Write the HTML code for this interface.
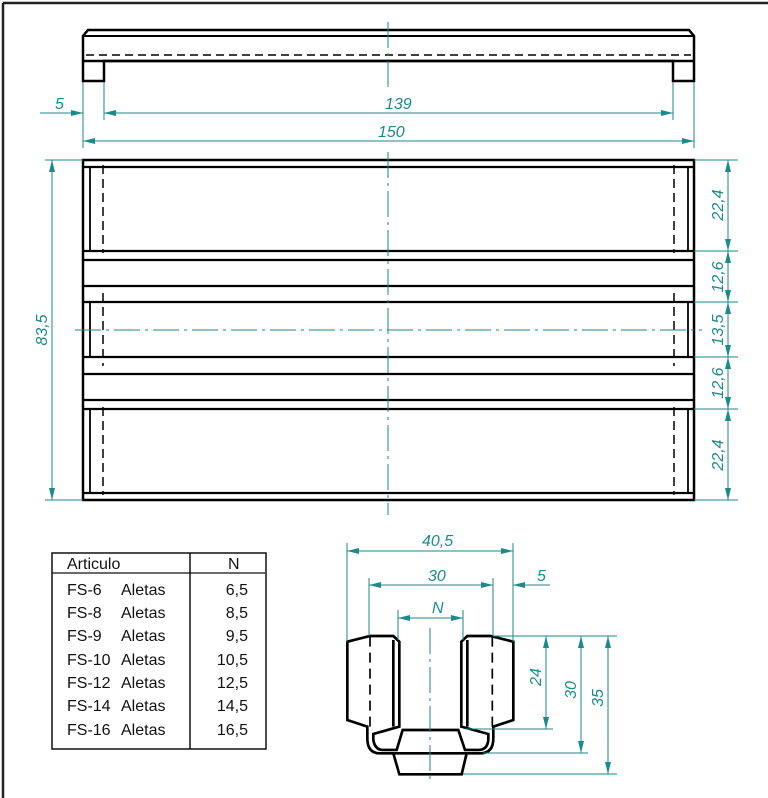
<!DOCTYPE html>
<html><head><meta charset="utf-8"><style>
html,body{margin:0;padding:0;background:#fff}
svg{display:block}
.t{font-family:"Liberation Sans",sans-serif;font-style:italic;fill:#1a8a8a;font-size:16px}
.tb{font-family:"Liberation Sans",sans-serif;fill:#111;font-size:16px}
</style></head><body>
<svg width="768" height="798" viewBox="0 0 768 798" xmlns="http://www.w3.org/2000/svg">
<defs>
<marker id="a" viewBox="0 0 12 6" refX="12" refY="3" markerWidth="12" markerHeight="6" markerUnits="userSpaceOnUse" orient="auto-start-reverse"><path d="M0,0 L12,3 L0,6 z" fill="#1a8a8a"/></marker>
</defs>
<line x1="3" y1="3" x2="768" y2="3" stroke="#222" stroke-width="2.5"/>
<line x1="3" y1="3" x2="3" y2="798" stroke="#222" stroke-width="2.5"/>

<g stroke="#000" fill="none">
<path d="M83,81 L83,36 L88,30 L689,30 L694,36 L694,81 L673,81 L673,61 L104,61 L104,81 Z" stroke-width="2.5"/>
<line x1="83" y1="36" x2="694" y2="36" stroke-width="2"/>
<line x1="83" y1="61" x2="694" y2="61" stroke-width="2.5"/>
<line x1="86" y1="55" x2="691" y2="55" stroke-width="1.5" stroke-dasharray="8,5"/>
<rect x="83" y="160" width="611" height="340" stroke-width="2.5"/>
<g stroke-width="2.2">
<line x1="83" y1="167" x2="694" y2="167"/>
<line x1="83" y1="251" x2="694" y2="251"/>
<line x1="83" y1="260" x2="694" y2="260"/>
<line x1="83" y1="286" x2="694" y2="286"/>
<line x1="83" y1="302" x2="694" y2="302"/>
<line x1="83" y1="357" x2="694" y2="357"/>
<line x1="83" y1="374" x2="694" y2="374"/>
<line x1="83" y1="400" x2="694" y2="400"/>
<line x1="83" y1="409" x2="694" y2="409"/>
<line x1="83" y1="493" x2="694" y2="493"/>
</g>
<g stroke-width="1.8">
<line x1="90" y1="167" x2="90" y2="251"/><line x1="688" y1="167" x2="688" y2="251"/>
<line x1="90" y1="302" x2="90" y2="357"/><line x1="688" y1="302" x2="688" y2="357"/>
<line x1="90" y1="409" x2="90" y2="493"/><line x1="688" y1="409" x2="688" y2="493"/>
</g>
<g stroke-width="1.5" stroke-dasharray="9,5">
<line x1="103" y1="165" x2="103" y2="253"/><line x1="674" y1="165" x2="674" y2="253"/>
<line x1="103" y1="293" x2="103" y2="366"/><line x1="674" y1="293" x2="674" y2="366"/>
<line x1="103" y1="407" x2="103" y2="495"/><line x1="674" y1="407" x2="674" y2="495"/>
</g>
<g transform="translate(330,530) scale(0.3333)" stroke-width="8">
<path d="M112,590 L52,570 L52,335 L120,318 L190,318 L208,335 L208,590 L130,612 L130,630 Q135,660 160,660 L200,660 L218,600 L385,600 L405,660 L445,660 Q472,660 475,630 L475,612 L394,590 L394,335 L412,318 L482,318 L550,335 L550,570 L490,590 L490,625 Q490,670 450,670 L150,670 Q112,670 112,625 Z"/>
<line x1="190" y1="330" x2="190" y2="590"/>
<line x1="412" y1="330" x2="412" y2="590"/>
<path d="M190,670 L208,733 L395,733 L410,670"/>
<line x1="190" y1="670" x2="410" y2="670" stroke-width="5" stroke-dasharray="24,14"/>
<line x1="120" y1="320" x2="120" y2="590" stroke-width="5" stroke-dasharray="30,18"/>
<line x1="487" y1="320" x2="487" y2="590" stroke-width="5" stroke-dasharray="30,18"/>
</g>
</g>

<g stroke="#1a8a8a" stroke-width="1" fill="none" stroke-dasharray="26,5,3,5">
<line x1="388" y1="22" x2="388" y2="90"/>
<line x1="388" y1="152" x2="388" y2="515"/>
<line x1="75" y1="330" x2="702" y2="330"/>
<line x1="430" y1="628" x2="430" y2="780"/>
</g>

<g stroke="#1a8a8a" stroke-width="1" fill="none">
<line x1="83" y1="82" x2="83" y2="148"/><line x1="104" y1="82" x2="104" y2="120"/>
<line x1="673" y1="82" x2="673" y2="120"/><line x1="694" y1="82" x2="694" y2="148"/>
<line x1="40" y1="113" x2="83" y2="113" marker-end="url(#a)"/>
<line x1="104" y1="113" x2="673" y2="113" marker-start="url(#a)" marker-end="url(#a)"/>
<line x1="83" y1="141" x2="694" y2="141" marker-start="url(#a)" marker-end="url(#a)"/>
<line x1="45" y1="160" x2="83" y2="160"/><line x1="45" y1="500" x2="83" y2="500"/>
<line x1="52" y1="160" x2="52" y2="500" marker-start="url(#a)" marker-end="url(#a)"/>
<line x1="694" y1="160" x2="738" y2="160"/><line x1="694" y1="251" x2="738" y2="251"/>
<line x1="694" y1="302" x2="738" y2="302"/><line x1="694" y1="357" x2="738" y2="357"/>
<line x1="694" y1="409" x2="738" y2="409"/><line x1="694" y1="500" x2="738" y2="500"/>
<line x1="728" y1="160" x2="728" y2="251" marker-start="url(#a)" marker-end="url(#a)"/>
<line x1="728" y1="251" x2="728" y2="302" marker-start="url(#a)" marker-end="url(#a)"/>
<line x1="728" y1="302" x2="728" y2="357" marker-start="url(#a)" marker-end="url(#a)"/>
<line x1="728" y1="357" x2="728" y2="409" marker-start="url(#a)" marker-end="url(#a)"/>
<line x1="728" y1="409" x2="728" y2="500" marker-start="url(#a)" marker-end="url(#a)"/>
<line x1="347" y1="543" x2="347" y2="642"/><line x1="513" y1="543" x2="513" y2="642"/>
<line x1="369" y1="578" x2="369" y2="636"/><line x1="493" y1="578" x2="493" y2="636"/>
<line x1="398" y1="610" x2="398" y2="640"/><line x1="463" y1="610" x2="463" y2="640"/>
<line x1="347" y1="551" x2="513" y2="551" marker-start="url(#a)" marker-end="url(#a)"/>
<line x1="369" y1="585" x2="493" y2="585" marker-start="url(#a)" marker-end="url(#a)"/>
<line x1="550" y1="585" x2="513" y2="585" marker-end="url(#a)"/>
<line x1="398" y1="618" x2="463" y2="618" marker-start="url(#a)" marker-end="url(#a)"/>
<line x1="493" y1="636" x2="617" y2="636"/>
<line x1="465" y1="729" x2="553" y2="729"/>
<line x1="483" y1="753" x2="588" y2="753"/>
<line x1="463" y1="774" x2="617" y2="774"/>
<line x1="546" y1="636" x2="546" y2="729" marker-start="url(#a)" marker-end="url(#a)"/>
<line x1="581" y1="636" x2="581" y2="753" marker-start="url(#a)" marker-end="url(#a)"/>
<line x1="608" y1="636" x2="608" y2="774" marker-start="url(#a)" marker-end="url(#a)"/>
</g>

<g class="t">
<text x="55" y="109">5</text>
<text x="385" y="109">139</text>
<text x="378" y="137">150</text>
<text transform="translate(47,330) rotate(-90)" text-anchor="middle">83,5</text>
<text transform="translate(723,205) rotate(-90)" text-anchor="middle">22,4</text>
<text transform="translate(723,277) rotate(-90)" text-anchor="middle">12,6</text>
<text transform="translate(723,330) rotate(-90)" text-anchor="middle">13,5</text>
<text transform="translate(723,383) rotate(-90)" text-anchor="middle">12,6</text>
<text transform="translate(723,455) rotate(-90)" text-anchor="middle">22,4</text>
<text x="422" y="546">40,5</text>
<text x="428" y="581">30</text>
<text x="537" y="581">5</text>
<text x="432" y="613">N</text>
<text transform="translate(541,677) rotate(-90)" text-anchor="middle">24</text>
<text transform="translate(576,690) rotate(-90)" text-anchor="middle">30</text>
<text transform="translate(603,698) rotate(-90)" text-anchor="middle">35</text>
</g>

<g stroke="#111" fill="none">
<rect x="52" y="553" width="214" height="196" stroke-width="1.5"/>
<line x1="52" y1="573" x2="265" y2="573" stroke-width="1.2"/>
<line x1="190" y1="553" x2="190" y2="749" stroke-width="1.5"/>
</g>
<g class="tb">
<text x="67" y="569">Articulo</text>
<text x="228" y="569">N</text>
<text x="67" y="595">FS-6</text><text x="121" y="595">Aletas</text><text x="248" y="595" text-anchor="end">6,5</text>
<text x="67" y="618">FS-8</text><text x="121" y="618">Aletas</text><text x="248" y="618" text-anchor="end">8,5</text>
<text x="67" y="641">FS-9</text><text x="121" y="641">Aletas</text><text x="248" y="641" text-anchor="end">9,5</text>
<text x="67" y="665">FS-10</text><text x="121" y="665">Aletas</text><text x="248" y="665" text-anchor="end">10,5</text>
<text x="67" y="688">FS-12</text><text x="121" y="688">Aletas</text><text x="248" y="688" text-anchor="end">12,5</text>
<text x="67" y="711">FS-14</text><text x="121" y="711">Aletas</text><text x="248" y="711" text-anchor="end">14,5</text>
<text x="67" y="735">FS-16</text><text x="121" y="735">Aletas</text><text x="248" y="735" text-anchor="end">16,5</text>
</g>
</svg>
</body></html>
